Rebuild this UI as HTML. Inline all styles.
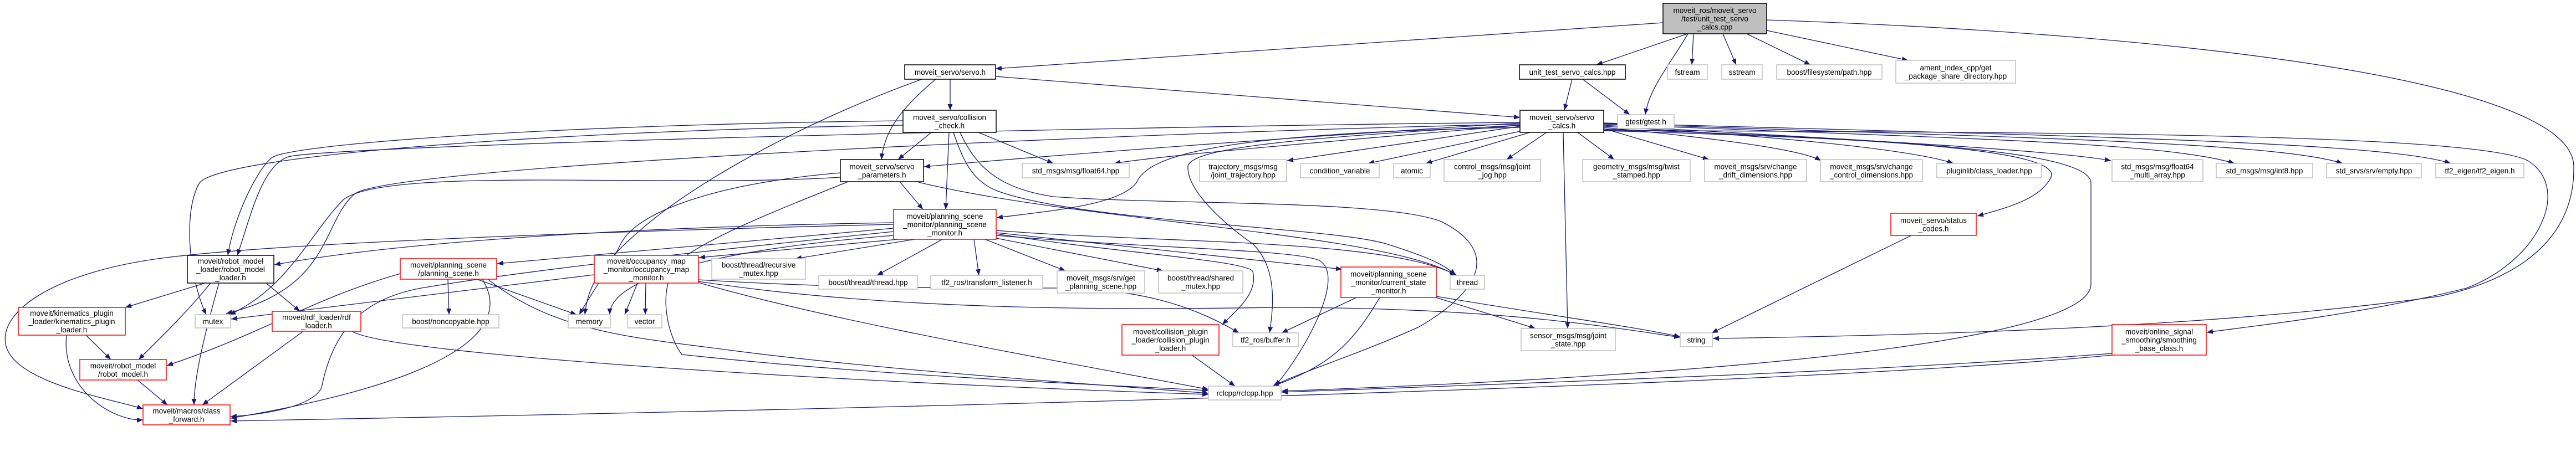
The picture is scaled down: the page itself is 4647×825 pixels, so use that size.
<!DOCTYPE html>
<html><head><meta charset="utf-8">
<style>
html,body{margin:0;padding:0;background:#fff;}
svg{display:block;}
text{font-family:"Liberation Sans",sans-serif;font-size:13.5px;fill:#000;text-anchor:middle;}
.g{fill:#fff;stroke:#bfbfbf;stroke-width:1.5}
.b{fill:#fff;stroke:#000;stroke-width:1.5}
.r{fill:#fff;stroke:#ff0000;stroke-width:1.5}
.e{fill:none;stroke:#191970;stroke-width:1.3;marker-end:url(#a)}
</style></head><body>
<svg width="4647" height="825" viewBox="0 0 4647 825" xmlns="http://www.w3.org/2000/svg">
<defs><marker id="a" markerWidth="11" markerHeight="9" refX="11" refY="4.5" orient="auto" markerUnits="userSpaceOnUse"><path d="M0,0 L11,4.5 L0,9 z" fill="#191970"/></marker></defs>

<!-- edges -->
<path class="e" d="M3000,41 L1796,124"/>
<path class="e" d="M3044,61 L2880,117"/>
<path class="e" d="M3045,61 C3010,120 2975,160 2968,207"/>
<path class="e" d="M3055,61 L3052,117"/>
<path class="e" d="M3108,61 L3132,117"/>
<path class="e" d="M3151,61 L3266,117"/>
<path class="e" d="M3187,55 L3442,109"/>
<path class="e" d="M3187,36 C3900,60 4640,140 4643,300 C4645,420 4560,500 4400,535 C4000,590 3500,605 3090,611"/>
<path class="e" d="M2893,235 C3500,240 4450,235 4560,290 C4640,340 4580,470 4450,520 C4250,570 4050,590 3981,600"/>
<path class="e" d="M2836,143 L2822,199"/>
<path class="e" d="M2855,143 L2940,207"/>

<path class="e" d="M1714,143 L1714,199"/>
<path class="e" d="M1688,143 C1620,200 1595,240 1590,288"/>
<path class="e" d="M1796,138 L2742,212"/>
<path class="e" d="M1663,143 C1450,220 1250,330 1150,420 C1080,480 1060,520 1055,568"/>

<path class="e" d="M2742,222 C2300,250 1900,280 1667,301"/>
<path class="e" d="M2742,226 C2400,255 2100,280 2010,295"/>
<path class="e" d="M2742,228 L2322,290"/>
<path class="e" d="M2742,237 L2468,295"/>
<path class="e" d="M2760,239 L2572,295"/>
<path class="e" d="M2790,239 L2718,288"/>
<path class="e" d="M2846,239 L2912,288"/>
<path class="e" d="M2893,232 L3083,288"/>
<path class="e" d="M2893,230 C3100,250 3250,270 3285,290"/>
<path class="e" d="M2893,228 C3200,245 3450,270 3524,295"/>
<path class="e" d="M2893,226 C3300,250 3700,270 3808,290"/>
<path class="e" d="M2893,224 C3500,250 3900,255 4031,295"/>
<path class="e" d="M2893,223 C3600,248 4100,255 4226,295"/>
<path class="e" d="M2893,222 C3700,245 4300,255 4421,295"/>
<path class="e" d="M2893,233 C3400,250 3720,270 3700,320 C3680,360 3620,375 3567,390"/>
<path class="e" d="M2893,236 C3400,250 3770,270 3772,330 L3772,513 C3772,600 3300,670 2312,706"/>
<path class="e" d="M2820,239 L2828,593"/>
<path class="e" d="M2742,230 C2200,240 2070,280 2050,330 C2020,370 1900,380 1798,393"/>
<path class="e" d="M2742,226 C2300,250 2150,270 2143,300 C2140,350 2230,420 2260,440 C2300,480 2300,540 2290,601"/>
<path class="e" d="M2742,221 C2000,228 600,262 520,283 C470,300 450,400 428,461"/>
<path class="e" d="M2742,224 C2000,240 700,300 640,350 C580,400 600,520 408,566"/>

<path class="e" d="M1629,218 C1000,225 520,260 490,285 C460,310 420,400 411,461"/>
<path class="e" d="M1629,226 C1000,236 400,280 360,330 C330,380 340,500 372,568"/>
<path class="e" d="M1680,239 L1620,288"/>
<path class="e" d="M1712,239 L1706,378"/>
<path class="e" d="M1765,239 L1900,295"/>
<path class="e" d="M1720,239 C1740,300 1760,330 1800,345 C1950,400 2400,410 2500,440 C2580,465 2610,480 2625,497"/>
<path class="e" d="M1732,239 C1760,300 1800,340 1900,355 C2100,370 2500,360 2600,400 C2700,450 2680,520 2560,590 C2450,640 2350,670 2296,697"/>

<path class="e" d="M1623,328 L1665,378"/>
<path class="e" d="M1657,329 C1950,400 2500,420 2626,497"/>
<path class="e" d="M1516,320 C1200,340 700,300 620,360 C560,420 520,520 414,568"/>
<path class="e" d="M1516,312 C1300,330 1150,380 1120,440 C1090,500 1060,540 1045,568"/>
<path class="e" d="M1530,328 C1400,380 1300,420 1240,460 C1180,500 1200,600 1230,640 C1600,680 2000,695 2180,705"/>

<path class="e" d="M1612,402 C1100,410 700,440 495,478"/>
<path class="e" d="M1612,412 L897,476"/>
<path class="e" d="M1620,432 L1261,465"/>
<path class="e" d="M1650,432 L1435,467"/>
<path class="e" d="M1700,432 L1582,497"/>
<path class="e" d="M1757,432 L1766,497"/>
<path class="e" d="M1777,432 L1922,489"/>
<path class="e" d="M1797,430 L2098,489"/>
<path class="e" d="M1797,420 L2421,486"/>
<path class="e" d="M1797,416 C2100,440 2500,430 2628,497"/>
<path class="e" d="M1797,422 C2000,455 2250,470 2260,490 C2270,530 2230,560 2205,586"/>
<path class="e" d="M1797,425 C2100,450 2330,450 2380,470 C2430,500 2350,640 2300,697"/>
<path class="e" d="M1612,405 C1000,420 500,440 300,465 C100,490 0,560 10,620 C20,690 200,720 258,738"/>
<path class="e" d="M1612,418 C1400,440 1000,480 760,520 C650,540 600,600 580,700 C560,740 450,750 416,752"/>
<path class="e" d="M1612,425 C1300,450 1100,500 1100,568"/>

<path class="e" d="M808,504 L810,568"/>
<path class="e" d="M860,504 L1040,568"/>
<path class="e" d="M722,494 C560,540 480,600 301,660"/>
<path class="e" d="M870,504 C930,600 800,690 416,755"/>
<path class="e" d="M880,504 C1000,600 1150,610 1300,630 C1600,670 2000,695 2180,710"/>

<path class="e" d="M1150,511 L1127,568"/>
<path class="e" d="M1165,511 L1164,568"/>
<path class="e" d="M1072,496 L417,576"/>
<path class="e" d="M1260,510 C1500,580 1900,650 2180,703"/>
<path class="e" d="M1260,505 C1500,520 1700,520 1900,520 C2050,520 2150,550 2235,601"/>
<path class="e" d="M1260,508 C1600,560 2000,560 2300,555 C2700,555 2900,590 3031,609"/>

<path class="e" d="M370,511 L226,555"/>
<path class="e" d="M380,511 C340,560 300,600 250,649"/>
<path class="e" d="M395,511 C370,600 350,680 350,731"/>
<path class="e" d="M480,511 L541,562"/>
<path class="e" d="M155,605 L200,649"/>
<path class="e" d="M120,605 C110,700 200,760 258,758"/>
<path class="e" d="M248,686 L302,731"/>
<path class="e" d="M547,598 L365,731"/>
<path class="e" d="M635,598 C700,640 1500,690 2180,712"/>
<path class="e" d="M2150,641 L2228,697"/>
<path class="e" d="M2447,537 L2312,601"/>
<path class="e" d="M2489,537 C2440,620 2400,660 2296,697"/>
<path class="e" d="M2590,537 L2770,593"/>
<path class="e" d="M2591,535 C2800,570 2950,590 3031,608"/>
<path class="e" d="M3448,425 L3088,601"/>
<path class="e" d="M3810,638 C3400,670 2800,690 2312,708"/>
<path class="e" d="M3810,641 C3200,700 1500,740 416,760"/>

<!-- nodes -->
<rect x="3000" y="6" width="187" height="55" fill="#bfbfbf" stroke="#000" stroke-width="1.5"/>
<text x="3093.5" y="23.5">moveit_ros/moveit_servo<tspan x="3093.5" dy="15">/test/unit_test_servo</tspan><tspan x="3093.5" dy="15">_calcs.cpp</tspan></text>

<rect class="b" x="1632" y="117" width="164" height="26"/><text x="1714" y="135">moveit_servo/servo.h</text>
<rect class="b" x="2741" y="117" width="191" height="26"/><text x="2836.5" y="135">unit_test_servo_calcs.hpp</text>
<rect class="g" x="3008" y="117" width="72" height="26"/><text x="3044" y="135">fstream</text>
<rect class="g" x="3106" y="117" width="73" height="26"/><text x="3142.5" y="135">sstream</text>
<rect class="g" x="3205" y="117" width="190" height="26"/><text x="3300" y="135">boost/filesystem/path.hpp</text>
<rect class="g" x="3420" y="109" width="216" height="41"/><text x="3528" y="127">ament_index_cpp/get<tspan x="3528" dy="15">_package_share_directory.hpp</tspan></text>
<rect class="g" x="2918" y="207" width="102" height="25"/><text x="2969" y="224.5">gtest/gtest.h</text>

<rect class="b" x="1629" y="199" width="168" height="40"/><text x="1713" y="216.5">moveit_servo/collision<tspan x="1713" dy="15">_check.h</tspan></text>
<rect class="b" x="2742" y="199" width="151" height="40"/><text x="2817.5" y="216.5">moveit_servo/servo<tspan x="2817.5" dy="15">_calcs.h</tspan></text>

<rect class="b" x="1516" y="288" width="150" height="40"/><text x="1591" y="305.5">moveit_servo/servo<tspan x="1591" dy="15">_parameters.h</tspan></text>
<rect class="g" x="1844" y="295" width="193" height="26"/><text x="1940.5" y="313">std_msgs/msg/float64.hpp</text>
<rect class="g" x="2164" y="288" width="157" height="40"/><text x="2242.5" y="305.5">trajectory_msgs/msg<tspan x="2242.5" dy="15">/joint_trajectory.hpp</tspan></text>
<rect class="g" x="2346" y="295" width="142" height="26"/><text x="2417" y="313">condition_variable</text>
<rect class="g" x="2514" y="295" width="66" height="26"/><text x="2547" y="313">atomic</text>
<rect class="g" x="2605" y="288" width="174" height="40"/><text x="2692" y="305.5">control_msgs/msg/joint<tspan x="2692" dy="15">_jog.hpp</tspan></text>
<rect class="g" x="2855" y="288" width="194" height="40"/><text x="2952" y="305.5">geometry_msgs/msg/twist<tspan x="2952" dy="15">_stamped.hpp</tspan></text>
<rect class="g" x="3075" y="288" width="184" height="40"/><text x="3167" y="305.5">moveit_msgs/srv/change<tspan x="3167" dy="15">_drift_dimensions.hpp</tspan></text>
<rect class="g" x="3284" y="288" width="184" height="40"/><text x="3376" y="305.5">moveit_msgs/srv/change<tspan x="3376" dy="15">_control_dimensions.hpp</tspan></text>
<rect class="g" x="3494" y="295" width="189" height="26"/><text x="3588.5" y="313">pluginlib/class_loader.hpp</text>
<rect class="g" x="3810" y="288" width="164" height="40"/><text x="3892" y="305.5">std_msgs/msg/float64<tspan x="3892" dy="15">_multi_array.hpp</tspan></text>
<rect class="g" x="3998" y="295" width="174" height="26"/><text x="4085" y="313">std_msgs/msg/int8.hpp</text>
<rect class="g" x="4197" y="295" width="171" height="26"/><text x="4282.5" y="313">std_srvs/srv/empty.hpp</text>
<rect class="g" x="4394" y="295" width="159" height="26"/><text x="4473.5" y="313">tf2_eigen/tf2_eigen.h</text>

<rect class="r" x="1612" y="378" width="185" height="54"/><text x="1704.5" y="395">moveit/planning_scene<tspan x="1704.5" dy="15">_monitor/planning_scene</tspan><tspan x="1704.5" dy="15">_monitor.h</tspan></text>
<rect class="r" x="3411" y="385" width="154" height="40"/><text x="3488" y="402.5">moveit_servo/status<tspan x="3488" dy="15">_codes.h</tspan></text>

<rect class="b" x="338" y="461" width="156" height="50"/><text x="416" y="476">moveit/robot_model<tspan x="416" dy="15">_loader/robot_model</tspan><tspan x="416" dy="15">_loader.h</tspan></text>
<rect class="r" x="722" y="467" width="174" height="37"/><text x="809" y="483">moveit/planning_scene<tspan x="809" dy="15">/planning_scene.h</tspan></text>
<rect class="r" x="1072" y="461" width="188" height="50"/><text x="1166" y="476">moveit/occupancy_map<tspan x="1166" dy="15">_monitor/occupancy_map</tspan><tspan x="1166" dy="15">_monitor.h</tspan></text>
<rect class="g" x="1284" y="467" width="169" height="37"/><text x="1368.5" y="483">boost/thread/recursive<tspan x="1368.5" dy="15">_mutex.hpp</tspan></text>
<rect class="g" x="1477" y="497" width="178" height="25"/><text x="1566" y="514.5">boost/thread/thread.hpp</text>
<rect class="g" x="1679" y="497" width="202" height="25"/><text x="1780" y="514.5">tf2_ros/transform_listener.h</text>
<rect class="g" x="1907" y="489" width="158" height="40"/><text x="1986" y="506.5">moveit_msgs/srv/get<tspan x="1986" dy="15">_planning_scene.hpp</tspan></text>
<rect class="g" x="2090" y="489" width="152" height="40"/><text x="2166" y="506.5">boost/thread/shared<tspan x="2166" dy="15">_mutex.hpp</tspan></text>
<rect class="r" x="2419" y="482" width="172" height="55"/><text x="2505" y="499.5">moveit/planning_scene<tspan x="2505" dy="15">_monitor/current_state</tspan><tspan x="2505" dy="15">_monitor.h</tspan></text>
<rect class="g" x="2616" y="497" width="62" height="25"/><text x="2647" y="514.5">thread</text>

<rect class="r" x="33" y="555" width="193" height="50"/><text x="129.5" y="570">moveit/kinematics_plugin<tspan x="129.5" dy="15">_loader/kinematics_plugin</tspan><tspan x="129.5" dy="15">_loader.h</tspan></text>
<rect class="g" x="352" y="568" width="64" height="24"/><text x="384" y="585">mutex</text>
<rect class="r" x="491" y="562" width="160" height="36"/><text x="571" y="577.5">moveit/rdf_loader/rdf<tspan x="571" dy="15">_loader.h</tspan></text>
<rect class="g" x="726" y="568" width="174" height="24"/><text x="813" y="585">boost/noncopyable.hpp</text>
<rect class="g" x="1025" y="568" width="76" height="24"/><text x="1063" y="585">memory</text>
<rect class="g" x="1132" y="568" width="62" height="24"/><text x="1163" y="585">vector</text>
<rect class="r" x="2024" y="586" width="175" height="55"/><text x="2111.5" y="603.5">moveit/collision_plugin<tspan x="2111.5" dy="15">_loader/collision_plugin</tspan><tspan x="2111.5" dy="15">_loader.h</tspan></text>
<rect class="g" x="2224" y="601" width="118" height="25"/><text x="2283" y="618.5">tf2_ros/buffer.h</text>
<rect class="g" x="2744" y="593" width="170" height="40"/><text x="2829" y="610.5">sensor_msgs/msg/joint<tspan x="2829" dy="15">_state.hpp</tspan></text>
<rect class="g" x="3031" y="601" width="58" height="25"/><text x="3060" y="618.5">string</text>
<rect class="r" x="3810" y="586" width="170" height="55"/><text x="3895" y="603.5">moveit/online_signal<tspan x="3895" dy="15">_smoothing/smoothing</tspan><tspan x="3895" dy="15">_base_class.h</tspan></text>
<rect class="r" x="144" y="649" width="156" height="37"/><text x="222" y="665">moveit/robot_model<tspan x="222" dy="15">/robot_model.h</tspan></text>
<rect class="g" x="2180" y="697" width="131" height="25"/><text x="2245.5" y="714.5">rclcpp/rclcpp.hpp</text>
<rect class="r" x="258" y="731" width="157" height="36"/><text x="336.5" y="746.5">moveit/macros/class<tspan x="336.5" dy="15">_forward.h</tspan></text>
</svg>
</body></html>
